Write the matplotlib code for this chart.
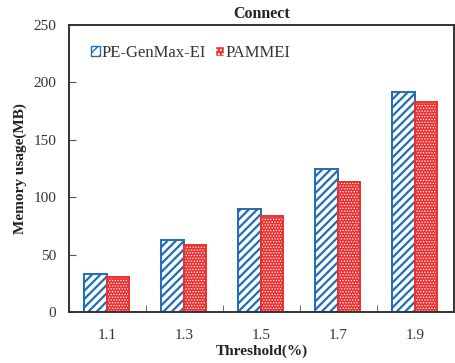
import numpy as np
import matplotlib
matplotlib.use('Agg')
import matplotlib.pyplot as plt
from matplotlib.patches import Patch

plt.rcParams['font.family'] = ['Liberation Serif', 'DejaVu Serif']

# data
thresholds = ['1.1', '1.3', '1.5', '1.7', '1.9']
pe_genmax = [33.2, 62.6, 90.1, 124.4, 191.7]
pammei = [30.6, 58.3, 83.2, 113.1, 183.3]

blue = '#1f6db8'
red = '#ee2f2f'

fig = plt.figure(figsize=(4.56, 3.63), dpi=100)
ax = fig.add_axes([69/456, 1-312/363, (454-69)/456, (312-25)/363])

x = np.arange(len(thresholds))
w = 0.29

with plt.rc_context({'hatch.linewidth': 1.6}):
    ax.bar(x - w/2 - 0.01, pe_genmax, w, color='white', edgecolor=blue,
           hatch='////', linewidth=1.4)
    h1 = Patch(facecolor='white', edgecolor=blue, hatch='///', label='PE-GenMax-EI')
# red bars: red fill with small white dots, then outline
with plt.rc_context({'hatch.linewidth': 0.6}):
    ax.bar(x + w/2 - 0.01, pammei, w, color=red, edgecolor='white',
           hatch='......', linewidth=0)
    h2 = Patch(facecolor=red, edgecolor='white', hatch='....', label='PAMMEI')
ax.bar(x + w/2 - 0.01, pammei, w, color='none', edgecolor=red, linewidth=1.4)

ax.set_xlim(-0.5, len(thresholds) - 0.5)
ax.set_ylim(0, 250)
ax.set_yticks([0, 50, 100, 150, 200, 250])
ax.set_xticks(x)
ax.set_xticklabels(thresholds)
ax.set_xticks(np.arange(0.5, len(thresholds) - 1, 1), minor=True)
ax.tick_params(axis='x', which='major', length=0, pad=12, labelsize=11, colors='#333333')
ax.tick_params(axis='x', which='minor', direction='in', length=5, color='#555555')
ax.tick_params(axis='y', direction='in', length=5, labelsize=11, pad=9,
               color='#555555', labelcolor='#333333')
for s in ax.spines.values():
    s.set_linewidth(1.4)
    s.set_color('#333333')

ax.set_title('Connect', fontsize=11.5, fontweight='bold', pad=5, color='#222222')
ax.set_xlabel('Threshold(%)', fontsize=11, fontweight='bold', labelpad=2, color='#222222')
ax.set_ylabel('Memory usage(MB)', fontsize=11, fontweight='bold', labelpad=5, color='#222222')

ax.legend(handles=[h1, h2], loc='upper left', bbox_to_anchor=(0.04, 0.955), ncol=2,
          frameon=False, fontsize=12, handlelength=0.55, handleheight=0.55,
          handletextpad=0.1, columnspacing=0.5, borderaxespad=0, labelcolor='#333333')

fig.savefig('out.png', dpi=100)
